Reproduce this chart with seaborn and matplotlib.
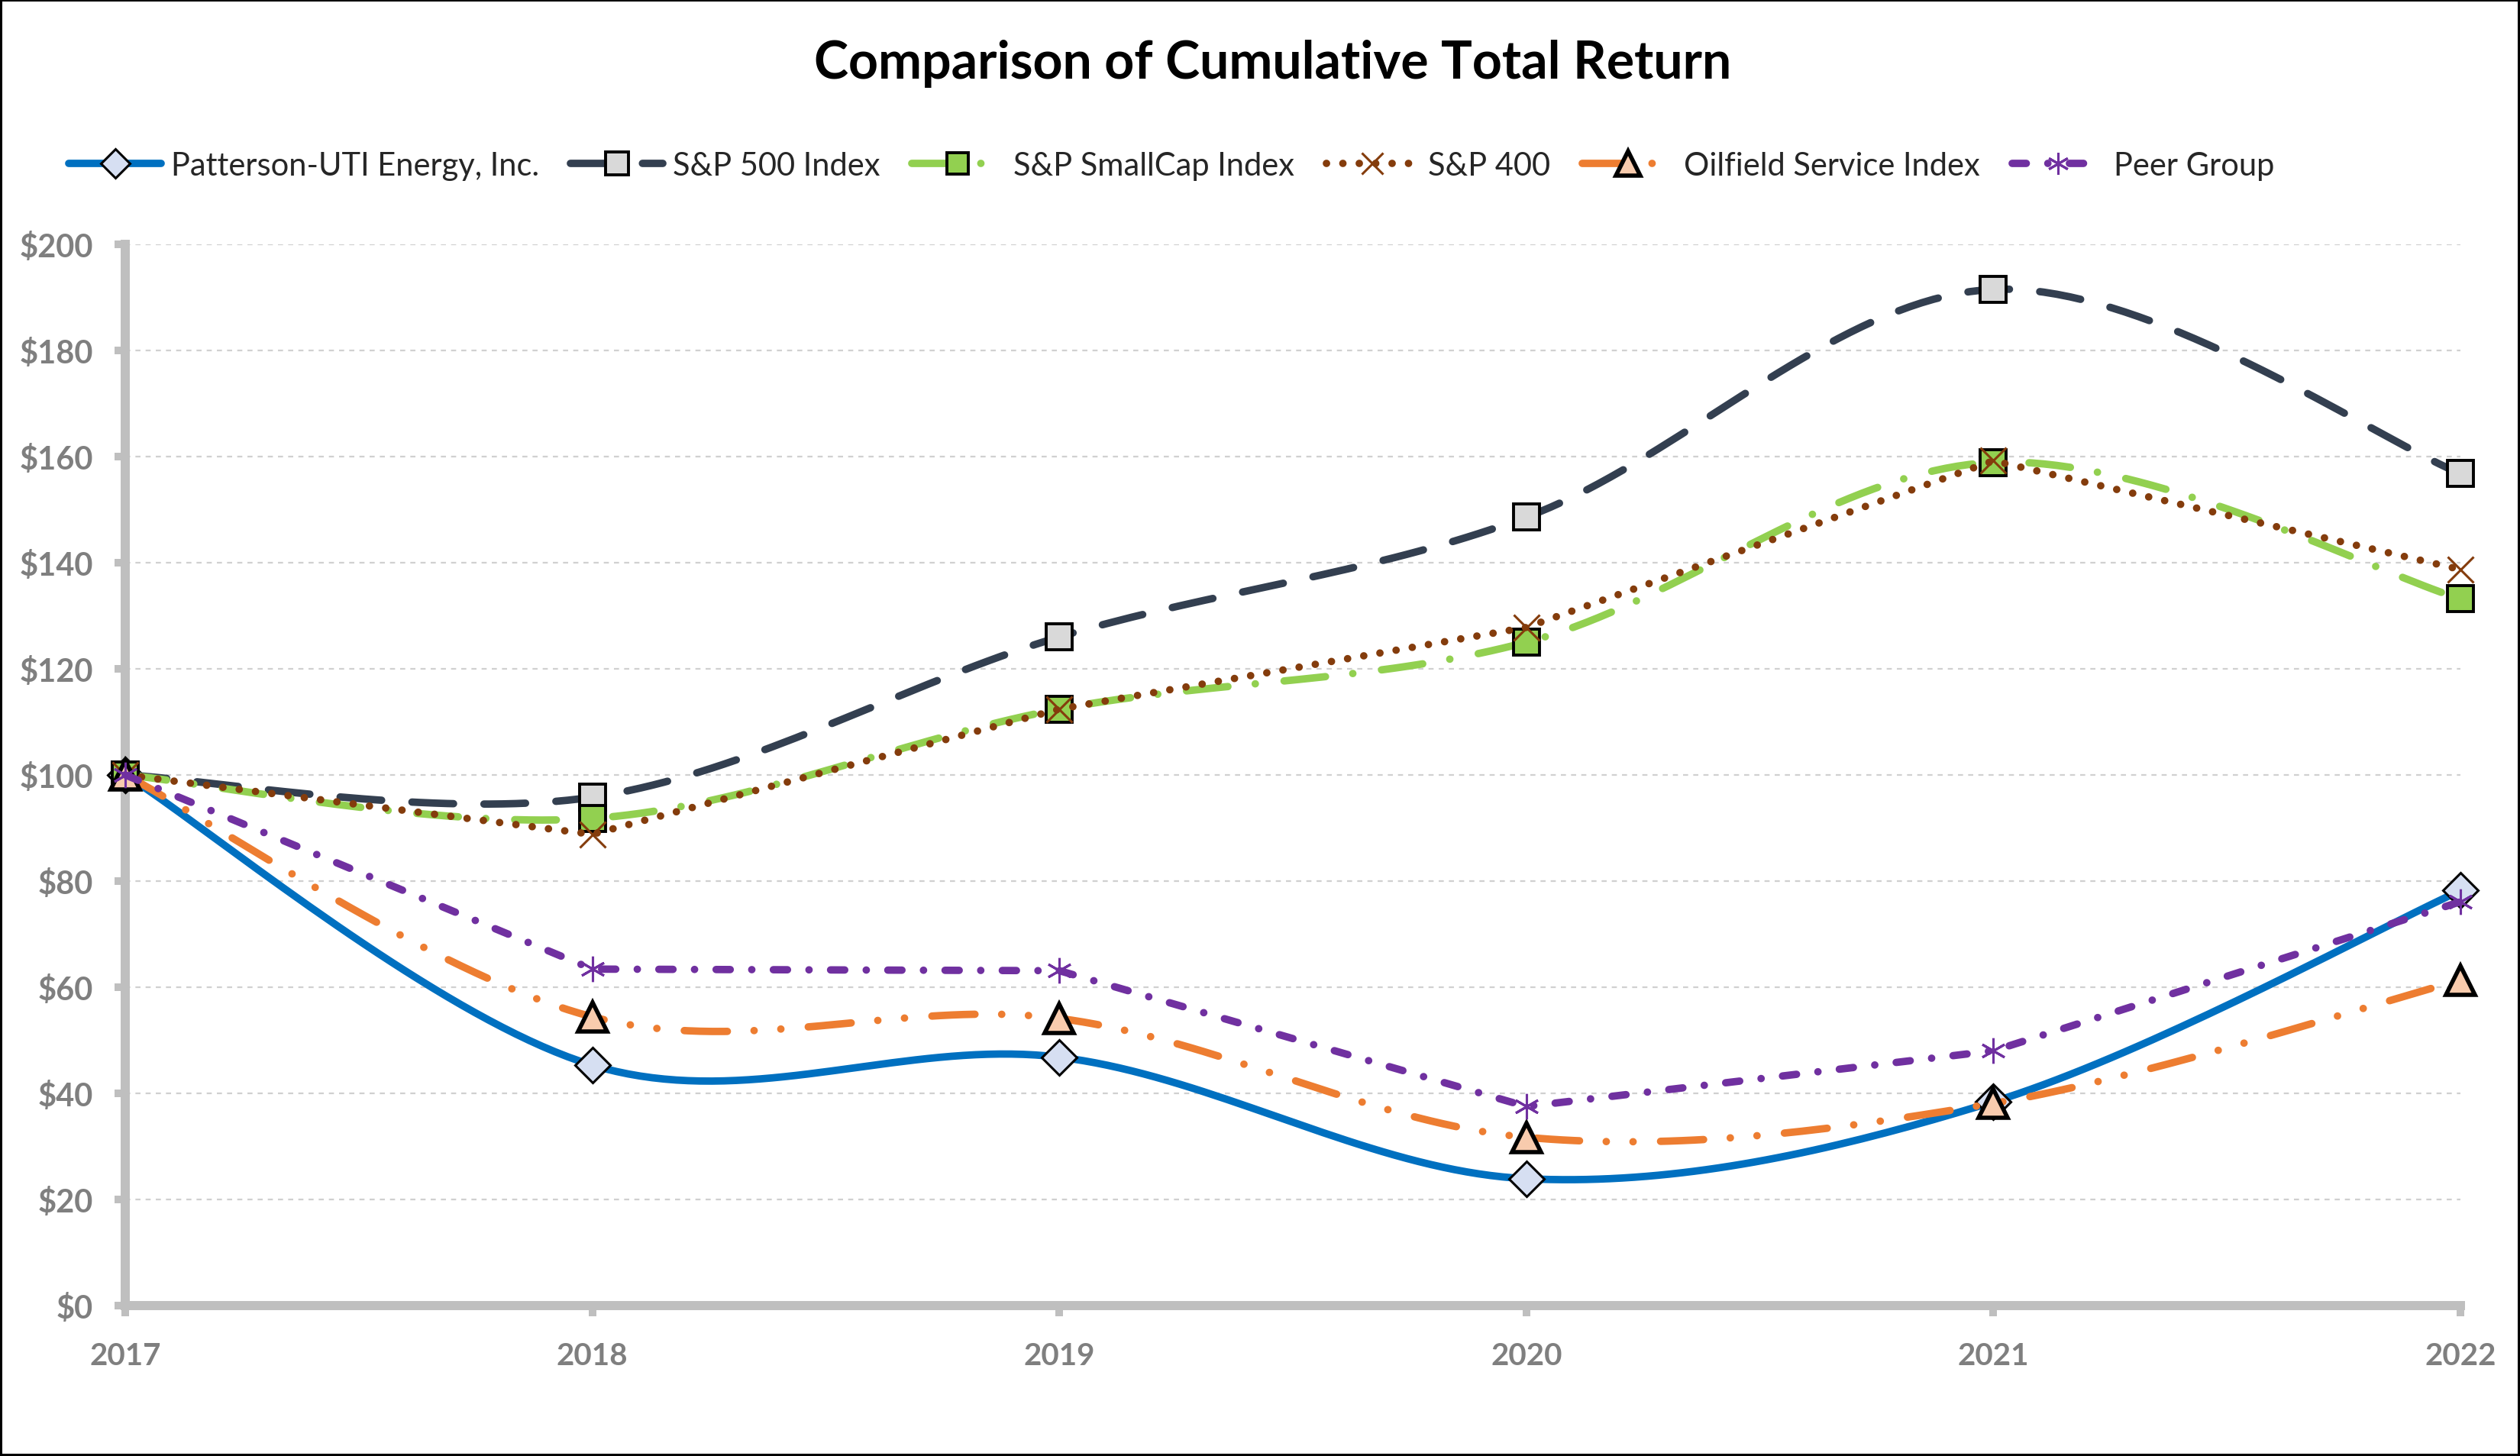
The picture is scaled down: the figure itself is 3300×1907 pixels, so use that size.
import numpy as np
import pandas as pd
import matplotlib
matplotlib.use("Agg")
import matplotlib.pyplot as plt
import seaborn as sns
from matplotlib.lines import Line2D

# values
years     = [2017, 2018, 2019, 2020, 2021, 2022]
patterson = [100, 45.3, 46.8, 23.9, 38.4, 78.2]
sp500     = [100, 95.8, 126.0, 148.6, 191.5, 156.8]
smallcap  = [100, 91.8, 112.4, 125.0, 158.9, 133.2]
sp400     = [100, 88.8, 112.4, 127.8, 159.2, 138.7]
oilfield  = [100, 54.4, 54.1, 31.7, 38.1, 61.3]
peer      = [100, 63.4, 63.1, 37.5, 48.0, 76.1]

names = ["Patterson-UTI Energy, Inc.", "S&P 500 Index", "S&P SmallCap Index",
         "S&P 400", "Oilfield Service Index", "Peer Group"]
series = [patterson, sp500, smallcap, sp400, oilfield, peer]
y_ticks = list(range(0, 201, 20))

LW = 3.5
styles = [
    dict(color="#0070C0", ls="-", smooth=True,
         marker="D", ms=11.5, mfc="#D6DFF2", mec="black", mew=1.1),
    dict(color="#333F50", ls=(0, (5.6, 4.1)), smooth=True,
         marker="s", ms=12.5, mfc="#D9D9D9", mec="black", mew=1.4),
    dict(color="#92D050", ls=(0, (5.6, 3.7, 0.01, 3.9)), smooth=True,
         marker="s", ms=12, mfc="#92D050", mec="black", mew=1.4),
    dict(color="#843C0C", ls=(0, (0.01, 2.2)), smooth=False,
         marker="x", ms=12, mfc="#843C0C", mec="#843C0C", mew=1.1),
    dict(color="#ED7D31", ls=(0, (5.8, 3.6, 0.01, 3.6, 0.01, 3.7)), smooth=True,
         marker="^", ms=13.5, mfc="#F8CBAD", mec="black", mew=2.0),
    dict(color="#7030A0", ls=(0, (1.9, 2.9, 0.01, 2.9)), smooth=False,
         marker=(6, 2, 0), ms=12, mfc="#7030A0", mec="#7030A0", mew=1.1),
]


def smooth(xs, ys, n=40):
    # excel-like smoothed line: bezier segments with catmull-rom handles
    p = np.column_stack([xs, ys]).astype(float)
    pad = np.vstack([p[0], p, p[-1]])
    t = np.linspace(0, 1, n)[1:, None]
    out = [p[:1]]
    for i in range(len(p) - 1):
        p0, p1, p2, p3 = pad[i], pad[i + 1], pad[i + 2], pad[i + 3]
        b1 = p1 + (p2 - p0) / 6
        b2 = p2 - (p3 - p1) / 6
        out.append((1 - t) ** 3 * p1 + 3 * (1 - t) ** 2 * t * b1
                   + 3 * (1 - t) * t ** 2 * b2 + t ** 3 * p2)
    return np.vstack(out)


sns.set_theme(style="white")
plt.rcParams["font.family"] = ["Lato", "DejaVu Sans"]

fig = plt.figure(figsize=(16.5, 9.54), dpi=200)
fig.patch.set_edgecolor("black")
fig.patch.set_linewidth(2)
ax = fig.add_axes([0.0497, 0.1033, 0.9267, 0.7285])

for k, (name, vals, st) in enumerate(zip(names, series, styles)):
    if st["smooth"]:
        curve = smooth(years, vals)
    else:
        curve = np.column_stack([years, vals]).astype(float)
    df = pd.DataFrame({"x": curve[:, 0], "y": curve[:, 1]})
    sns.lineplot(data=df, x="x", y="y", ax=ax, color=st["color"], linewidth=LW,
                 linestyle=st["ls"], dash_capstyle="round", solid_capstyle="round",
                 solid_joinstyle="round", dash_joinstyle="round",
                 sort=False, estimator=None, clip_on=False, zorder=3 + k)
    ax.plot(years, vals, linestyle="none", marker=st["marker"], ms=st["ms"],
            mfc=st["mfc"], mec=st["mec"], mew=st["mew"], clip_on=False,
            zorder=3.5 + k)

ax.set_xlim(2017, 2022)
ax.set_ylim(0, 200)
ax.set_xticks(years)
ax.set_xticklabels([str(y) for y in years])
ax.set_yticks(y_ticks)
ax.set_yticklabels([f"${v}" for v in y_ticks])
ax.set_xlabel("")
ax.set_ylabel("")

ax.yaxis.grid(True, color="#D0D0D0", linestyle=(0, (3, 3)), linewidth=0.8)
ax.xaxis.grid(False)
ax.set_axisbelow(True)
for s in ["top", "right"]:
    ax.spines[s].set_visible(False)
for s in ["left", "bottom"]:
    ax.spines[s].set_color("#BFBFBF")
    ax.spines[s].set_linewidth(4.3)
ax.tick_params(axis="both", which="major", length=5, width=3.6, color="#BFBFBF",
               labelcolor="#7F7F7F")
ax.tick_params(axis="y", left=True, pad=10, labelsize=15)
ax.tick_params(axis="x", bottom=True, pad=12, labelsize=14.5)
for lab in ax.get_xticklabels() + ax.get_yticklabels():
    lab.set_fontweight("bold")

fig.text(0.505, 0.956, "Comparison of Cumulative Total Return", ha="center",
         va="center", fontsize=24.5, fontweight="bold", color="black")

handles = [Line2D([], [], color=st["color"], lw=LW, ls=st["ls"],
                  dash_capstyle="round", solid_capstyle="round",
                  marker=st["marker"], ms=st["ms"] * 0.85, mfc=st["mfc"],
                  mec=st["mec"], mew=st["mew"]) for st in styles]
fig.legend(handles, names, loc="center left", bbox_to_anchor=(0.016, 0.886),
           ncol=6, frameon=False, fontsize=15, handlelength=2.9,
           handletextpad=0.3, columnspacing=1.0)

fig.savefig("out.png", dpi=200)
